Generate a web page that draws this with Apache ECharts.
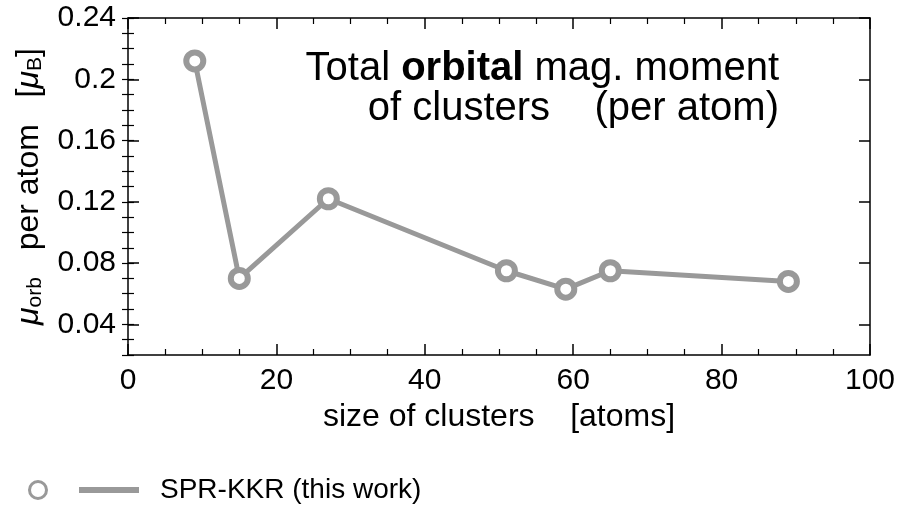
<!DOCTYPE html>
<html>
<head>
<meta charset="utf-8">
<script src="https://cdn.jsdelivr.net/npm/echarts@6/dist/echarts.min.js"></script>
<style>
  html, body { margin: 0; padding: 0; background: #fff; }
  #main { width: 915px; height: 511px; }
</style>
</head>
<body>
<div id="main"></div>
<script>
// cluster sizes (atoms) and orbital moment per atom (mu_B)
var clusterSizes = [9, 15, 27, 51, 59, 65, 89];
var orbMoments = [0.212, 0.070, 0.122, 0.075, 0.063, 0.075, 0.068];
var yTicks = [0.04, 0.08, 0.12, 0.16, 0.2, 0.24];
var seriesName = 'SPR-KKR (this work)';

var FONT = 'Liberation Sans, Arial, Helvetica, sans-serif';
var GRAY = '#999999';

var myChart = echarts.init(document.getElementById('main'));

var points = clusterSizes.map(function (x, i) { return [x, orbMoments[i]]; });

function xAxisCfg(pos, showLabel) {
  return {
    type: 'value', position: pos, min: 0, max: 100, interval: 20,
    axisLine: { show: true, onZero: false, lineStyle: { color: '#000', width: 1.5 } },
    axisTick: { show: true, inside: true, length: 11, lineStyle: { color: '#000', width: 1.5 } },
    minorTick: { show: true, splitNumber: 4, length: 6, lineStyle: { color: '#000', width: 1.2 } },
    splitLine: { show: false },
    axisLabel: { show: showLabel, margin: 11, color: '#000', fontSize: 30, fontFamily: FONT }
  };
}

function yMajor(pos, showLabel) {
  return {
    type: 'value', position: pos, min: 0.02, max: 0.24,
    axisLine: { show: true, onZero: false, lineStyle: { color: '#000', width: 1.5 } },
    axisTick: { show: true, inside: true, length: 11, customValues: yTicks, lineStyle: { color: '#000', width: 1.5 } },
    splitLine: { show: false },
    axisLabel: {
      show: showLabel, margin: 12, color: '#000', fontSize: 30, fontFamily: FONT,
      customValues: yTicks,
      formatter: function (v) { return String(+v.toFixed(2)); }
    }
  };
}

function yMinor(pos) {
  return {
    type: 'value', position: pos, min: 0.02, max: 0.24, interval: 0.01,
    axisLine: { show: false },
    axisTick: { show: true, inside: true, length: 6, lineStyle: { color: '#000', width: 1.2 } },
    splitLine: { show: false },
    axisLabel: { show: false }
  };
}

var xBottom = xAxisCfg('bottom', true);
xBottom.name = 'size of clusters    [atoms]';
xBottom.nameLocation = 'middle';
xBottom.nameGap = 37;
xBottom.nameTextStyle = { color: '#000', fontSize: 32, fontFamily: FONT };

var yLeft = yMajor('left', true);
yLeft.name = '{i|μ}{s|orb}   per atom   [{i|μ}{s|B}]';
yLeft.nameLocation = 'middle';
yLeft.nameGap = 82;
yLeft.nameTextStyle = {
  color: '#000', fontSize: 32, fontFamily: FONT,
  rich: {
    i: { fontSize: 32, fontStyle: 'italic', fontFamily: FONT, color: '#000' },
    s: { fontSize: 21, fontFamily: FONT, color: '#000', verticalAlign: 'bottom', padding: [13, 0, 0, 0] }
  }
};

var option = {
  animation: false,
  backgroundColor: '#fff',
  title: {
    text: 'Total {b|orbital} mag. moment\nof clusters    (per atom)',
    left: 779, top: 49, padding: 0,
    textAlign: 'right',
    textStyle: {
      color: '#000', fontSize: 40, fontWeight: 'normal', fontFamily: FONT, lineHeight: 40,
      rich: { b: { fontSize: 40, fontWeight: 'bold', fontFamily: FONT, color: '#000', lineHeight: 40 } }
    }
  },
  legend: {
    left: 28, top: 476, padding: 0,
    data: [seriesName],
    icon: 'path://M0,10 A10,10 0 1,1 20,10 A10,10 0 1,1 0,10 Z M3,10 A7,7 0 1,0 17,10 A7,7 0 1,0 3,10 Z M51,7 L111,7 L111,13 L51,13 Z',
    itemWidth: 111, itemHeight: 20,
    itemStyle: { color: GRAY, borderWidth: 0 },
    textStyle: { color: '#000', fontSize: 28, fontFamily: FONT, padding: [0, 0, 0, 16] }
  },
  grid: { left: 128, right: 45, top: 18, bottom: 156 },
  xAxis: [xBottom, xAxisCfg('top', false)],
  yAxis: [yLeft, yMinor('left'), yMajor('right', false), yMinor('right')],
  series: [{
    name: seriesName,
    type: 'line',
    xAxisIndex: 0, yAxisIndex: 0,
    data: points,
    symbol: 'circle',
    symbolSize: 17,
    lineStyle: { color: GRAY, width: 5 },
    itemStyle: { color: '#fff', borderColor: GRAY, borderWidth: 6 },
    z: 5
  }]
};

myChart.setOption(option);
</script>
</body>
</html>
